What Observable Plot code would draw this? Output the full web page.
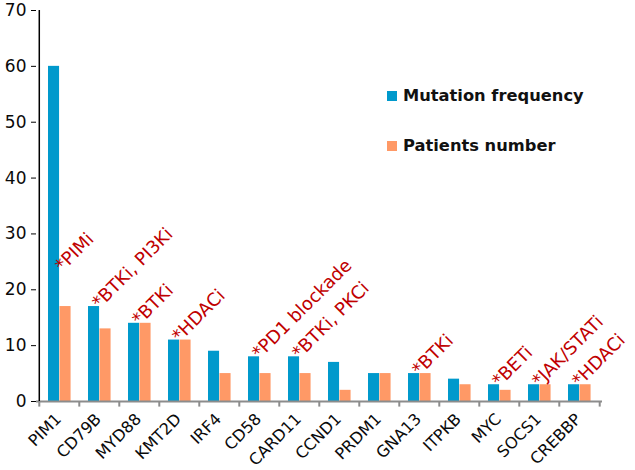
<!DOCTYPE html>
<html>
<head>
<meta charset="utf-8">
<script src="https://cdn.jsdelivr.net/npm/d3@7"></script>
<script src="https://cdn.jsdelivr.net/npm/@observablehq/plot@0.6"></script>
<style>
  html, body { margin: 0; padding: 0; background: #fff; }
  #wrap { position: relative; width: 635px; height: 470px; }
  .legend { position: absolute; left: 387px; font-family: "DejaVu Sans", sans-serif; font-weight: bold; font-size: 16.3px; color: #111; display: flex; align-items: center; }
  .legend .sw { width: 10px; height: 10px; margin-right: 6px; }
</style>
</head>
<body>
<div id="wrap"></div>
<script>
const genes = ["PIM1","CD79B","MYD88","KMT2D","IRF4","CD58","CARD11","CCND1","PRDM1","GNA13","ITPKB","MYC","SOCS1","CREBBP"];
const mutationFrequency = [60,17,14,11,9,8,8,7,5,5,4,3,3,3];
const patientsNumber = [17,13,14,11,5,5,5,2,5,5,3,2,3,3];
const annotatedGenes = ["PIM1","CD79B","MYD88","KMT2D","CD58","CARD11","GNA13","MYC","SOCS1","CREBBP"];
const annotationTexts = ["*PIMi","*BTKi, PI3Ki","*BTKi","*HDACi","*PD1 blockade","*BTKi, PKCi","*BTKi","*BETi","*JAK/STATi","*HDACi"];
const yTicks = [0,10,20,30,40,50,60,70];
const seriesNames = ["Mutation frequency","Patients number"];
const colors = ["#0099CC","#FF9966"];

const W = 635, H = 470, mL = 36, mR = 33, mT = 10, mB = 69;
const step = (W - mL - mR) / genes.length;

const rows = genes.map((g, i) => ({gene: g, mut: mutationFrequency[i], pat: patientsNumber[i]}));
const ann = annotatedGenes.map((g, i) => {
  const r = rows[genes.indexOf(g)];
  return {gene: g, text: annotationTexts[i], big: r.mut > 30, y: r.mut > 30 ? r.pat : Math.max(r.mut, r.pat)};
});

const chart = Plot.plot({
  width: W, height: H,
  marginLeft: mL, marginRight: mR, marginTop: mT, marginBottom: mB,
  style: {fontFamily: "DejaVu Sans, sans-serif", background: "#fff"},
  x: {domain: genes, padding: 0},
  y: {domain: [0, 70]},
  marks: [
    Plot.barY(rows, {x: "gene", y: "mut", fill: colors[0], insetLeft: 9, insetRight: step - 9 - 11.5}),
    Plot.barY(rows, {x: "gene", y: "pat", fill: colors[1], insetLeft: 9 + 11.5, insetRight: step - 9 - 23}),
    Plot.ruleY([0], {stroke: "#8c8c8c", strokeWidth: 2}),
    Plot.ruleX(genes, {x: d => d, dx: -step / 2, y1: 0, y2: -1, stroke: "#8c8c8c", strokeWidth: 2}),
    Plot.ruleX(genes.slice(-1), {x: d => d, dx: step / 2, y1: 0, y2: -1, stroke: "#8c8c8c", strokeWidth: 2}),
    Plot.ruleX(genes.slice(0, 1), {x: d => d, dx: -step / 2, y1: 0, y2: 70, stroke: "#000", strokeWidth: 1.5}),
    Plot.axisY({ticks: yTicks, tickSize: 5, tickPadding: 5, fontSize: 17, fill: "#0a0a0a", stroke: "#000", label: null}),
    Plot.axisX({tickSize: 0, tickRotate: -45, tickPadding: 15, dx: -1, fontSize: 16, fill: "#0a0a0a", label: null}),
    Plot.text(ann.filter(d => !d.big), {x: "gene", y: "y", text: "text", rotate: -45, textAnchor: "start", lineAnchor: "bottom", dx: 0, dy: 3, fill: "#C00000", fontSize: 18}),
    Plot.text(ann.filter(d => d.big), {x: "gene", y: "y", text: "text", rotate: -45, textAnchor: "start", lineAnchor: "bottom", dx: 3, dy: -34, fill: "#C00000", fontSize: 18})
  ]
});

const wrap = document.getElementById("wrap");
wrap.appendChild(chart);
[92, 142].forEach((top, i) => {
  const d = document.createElement("div");
  d.className = "legend";
  d.style.top = (top - 6) + "px";
  d.innerHTML = `<span class="sw" style="background:${colors[i]}"></span><span>${seriesNames[i]}</span>`;
  wrap.appendChild(d);
});
</script>
</body>
</html>
